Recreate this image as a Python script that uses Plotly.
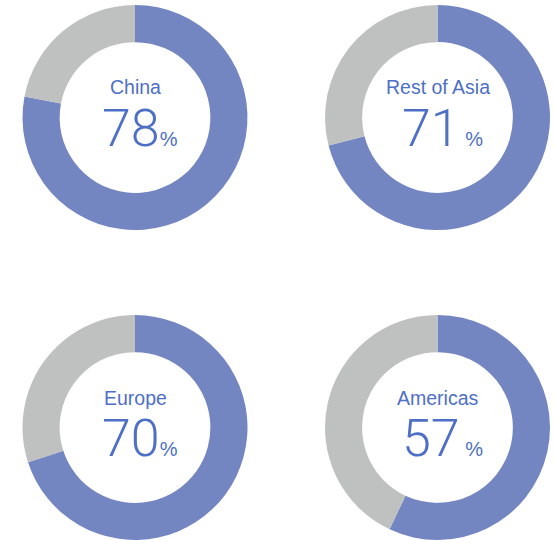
import plotly.graph_objects as go

# Share of each region, in percent
regions = ["China", "Rest of Asia", "Europe", "Americas"]
shares = [78, 71, 70, 57]

W, H = 555, 540
# centre of each ring in pixels, ring radius
centres = [(135, 117.5), (437.5, 117.5), (135, 427.5), (437.5, 427.5)]
R = 112.5

BLUE = "#7486C2"
GREY = "#BFC1C0"
TEXT = "#4E6FC6"
PCT_STYLE = "font-size:20px;font-family:Liberation Sans, Arial, sans-serif;font-weight:400"

fig = go.Figure()
annotations = []
for name, val, (cx, cy) in zip(regions, shares, centres):
    fig.add_trace(go.Pie(
        values=[val, 100 - val],
        labels=[name, "Other"],
        hole=0.67,
        sort=False,
        direction="clockwise",
        rotation=0,
        marker=dict(colors=[BLUE, GREY], line=dict(width=0)),
        textinfo="none",
        hoverinfo="label+percent",
        showlegend=False,
        domain=dict(x=[(cx - R) / W, (cx + R) / W],
                    y=[1 - (cy + R) / H, 1 - (cy - R) / H]),
    ))
    annotations.append(dict(
        x=cx / W, y=1 - (cy - 30) / H, xref="paper", yref="paper",
        text=name, showarrow=False, xanchor="center", yanchor="middle",
        font=dict(family="Liberation Sans, Arial, sans-serif", size=19.5, color=TEXT),
    ))
    annotations.append(dict(
        x=(cx + 5) / W, y=1 - (cy + 11) / H, xref="paper", yref="paper",
        text=f"{val}<span style='{PCT_STYLE}'> %</span>" if val in (71, 57)
        else f"{val}<span style='{PCT_STYLE}'>%</span>",
        showarrow=False, xanchor="center", yanchor="middle",
        font=dict(family="Roboto, sans-serif", size=52, color=TEXT, weight=300),
    ))

fig.update_layout(
    width=W, height=H,
    margin=dict(l=0, r=0, t=0, b=0),
    paper_bgcolor="white",
    plot_bgcolor="white",
    annotations=annotations,
)

fig.write_html("out.html")
